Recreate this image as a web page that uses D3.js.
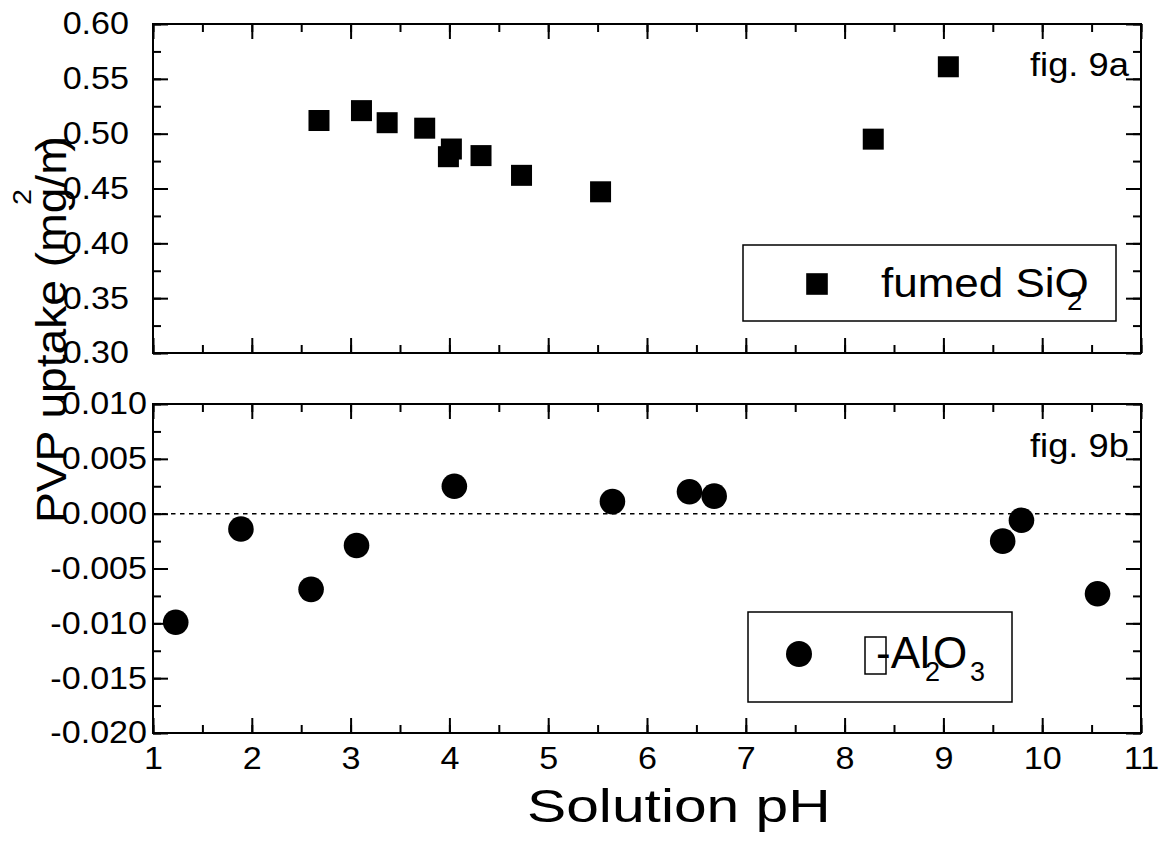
<!DOCTYPE html>
<html><head><meta charset="utf-8">
<script src="https://cdn.jsdelivr.net/npm/d3@7"></script>
<style>
html,body{margin:0;padding:0;background:#fff;}
svg text{font-family:"Liberation Sans",Arial,sans-serif;fill:#000;}
</style></head>
<body><svg id="c" width="1168" height="844"></svg>
<script>
// ---- data ----
const silicaPH = [2.68, 3.11, 3.37, 3.75, 4.02, 3.99, 4.32, 4.73, 5.53, 8.29, 9.05];
const silicaUptake = [0.512, 0.521, 0.510, 0.505, 0.486, 0.479, 0.480, 0.462, 0.447, 0.495, 0.561];
const aluminaPH = [1.23, 1.89, 2.60, 3.06, 4.05, 5.65, 6.43, 6.68, 9.60, 9.79, 10.56];
const aluminaUptake = [-0.0099, -0.0014, -0.0069, -0.0029, 0.0025, 0.0011, 0.0020, 0.0016, -0.0025, -0.0006, -0.0073];
const xTicks = [1,2,3,4,5,6,7,8,9,10,11];
const yTopTicks = [0.30,0.35,0.40,0.45,0.50,0.55,0.60];
const yBotTicks = [-0.020,-0.015,-0.010,-0.005,0.000,0.005,0.010];

const SX = 1.1;
const svg = d3.select("#c");
const x = d3.scaleLinear([1,11],[153,1141]);
const yTop = d3.scaleLinear([0.30,0.60],[353,24]);
const yBot = d3.scaleLinear([-0.020,0.010],[733,404]);
const L = 153, R = 1141;

function label(x0,y0,str,size,anchor,rot,sx){
  return svg.append("text")
    .attr("transform",`translate(${x0},${y0}) rotate(${rot||0}) scale(${sx||SX},1)`)
    .attr("text-anchor",anchor).style("font-size",size+"px").text(str);
}
function stretchTicks(g){
  g.selectAll(".tick text").each(function(){
    const t=d3.select(this);
    const xx=+t.attr("x")||0;
    t.attr("x",xx/SX).attr("transform",`scale(${SX},1)`);
  });
}
function minorVals(domain, step){
  const out=[]; const n=Math.round((domain[1]-domain[0])/step);
  for(let i=0;i<=n;i++) out.push(domain[0]+i*step);
  return out;
}

function panel(y, yTicks, yMinor, fmt, labelPad, showX){
  const top=y.range()[1], bot=y.range()[0];
  const mk = (axis, tr)=>{ const g=svg.append("g").attr("transform",tr).call(axis); g.select(".domain").remove(); g.selectAll("line").attr("stroke","#000").attr("stroke-width",2); return g; };
  const xMinor = minorVals([1,11],0.5);
  mk(d3.axisBottom(x).tickValues(xMinor).tickSize(-8).tickFormat(""),`translate(0,${bot})`);
  mk(d3.axisTop(x).tickValues(xMinor).tickSize(-8).tickFormat(""),`translate(0,${top})`);
  mk(d3.axisLeft(y).tickValues(yMinor).tickSize(-8).tickFormat(""),`translate(${L},0)`);
  mk(d3.axisRight(y).tickValues(yMinor).tickSize(-8).tickFormat(""),`translate(${R},0)`);
  const gb = mk(d3.axisBottom(x).tickValues(xTicks).tickSize(-15).tickPadding(14).tickFormat(showX? d3.format("d") : ""),`translate(0,${bot})`);
  gb.selectAll("text").style("font-size","31px").attr("font-family",null);
  stretchTicks(gb);
  mk(d3.axisTop(x).tickValues(xTicks).tickSize(-15).tickFormat(""),`translate(0,${top})`);
  const gl = mk(d3.axisLeft(y).tickValues(yTicks).tickSize(-15).tickPadding(labelPad).tickFormat(fmt),`translate(${L},0)`);
  gl.selectAll("text").style("font-size","31px").attr("font-family",null);
  stretchTicks(gl);
  mk(d3.axisRight(y).tickValues(yTicks).tickSize(-15).tickFormat(""),`translate(${R},0)`);
  svg.append("rect").attr("x",L).attr("y",top).attr("width",R-L).attr("height",bot-top)
    .attr("fill","none").attr("stroke","#000").attr("stroke-width",2);
}

panel(yTop, yTopTicks, minorVals([0.30,0.60],0.025), d3.format(".2f"), 24, false);
panel(yBot, yBotTicks, minorVals([-0.020,0.010],0.0025), d=>d3.format(".3f")(d).replace("−","-"), 6, true);

// zero line
svg.append("line").attr("x1",L).attr("x2",R).attr("y1",yBot(0)).attr("y2",yBot(0))
  .attr("stroke","#000").attr("stroke-width",1.5).attr("stroke-dasharray","4.5,4.5");

// squares
const sq=21;
svg.append("g").selectAll("rect").data(silicaPH).join("rect")
  .attr("x",(d)=>x(d)-sq/2).attr("y",(d,i)=>yTop(silicaUptake[i])-sq/2)
  .attr("width",sq).attr("height",sq).attr("fill","#000");
// circles
svg.append("g").selectAll("circle").data(aluminaPH).join("circle")
  .attr("cx",d=>x(d)).attr("cy",(d,i)=>yBot(aluminaUptake[i])).attr("r",12.8).attr("fill","#000");

// fig labels
label(1030,76,"fig. 9a",33,"start");
label(1030,457,"fig. 9b",33,"start");

// legend top
svg.append("rect").attr("x",743).attr("y",245).attr("width",373).attr("height",76)
  .attr("fill","#fff").attr("stroke","#000").attr("stroke-width",1.5);
svg.append("rect").attr("x",817-10.8).attr("y",284-10.8).attr("width",21.6).attr("height",21.6).attr("fill","#000");
label(881,297,"fumed SiO",40,"start");
label(1067,310,"2",25,"start");

// legend bottom
svg.append("rect").attr("x",748).attr("y",612).attr("width",264).attr("height",90)
  .attr("fill","#fff").attr("stroke","#000").attr("stroke-width",1.5);
svg.append("circle").attr("cx",799).attr("cy",654).attr("r",13).attr("fill","#000");
svg.append("rect").attr("x",865).attr("y",637).attr("width",21).attr("height",37)
  .attr("fill","none").attr("stroke","#000").attr("stroke-width",1.5);
label(876,668,"-Al",44,"start",0,1);
label(925,681,"2",27,"start",0,1);
label(933,668,"O",44,"start",0,1);
label(970,681,"3",27,"start",0,1);

// axis titles
label(527,822,"Solution pH",47,"start",0,1.25);
const yt = label(66,523,"PVP uptake (mg/m",42,"start",-90);
const len = yt.node().getComputedTextLength()*SX;
label(66,523-len,")",42,"end",-90);
label(31,197,"2",26,"middle",-90);
</script></body></html>
